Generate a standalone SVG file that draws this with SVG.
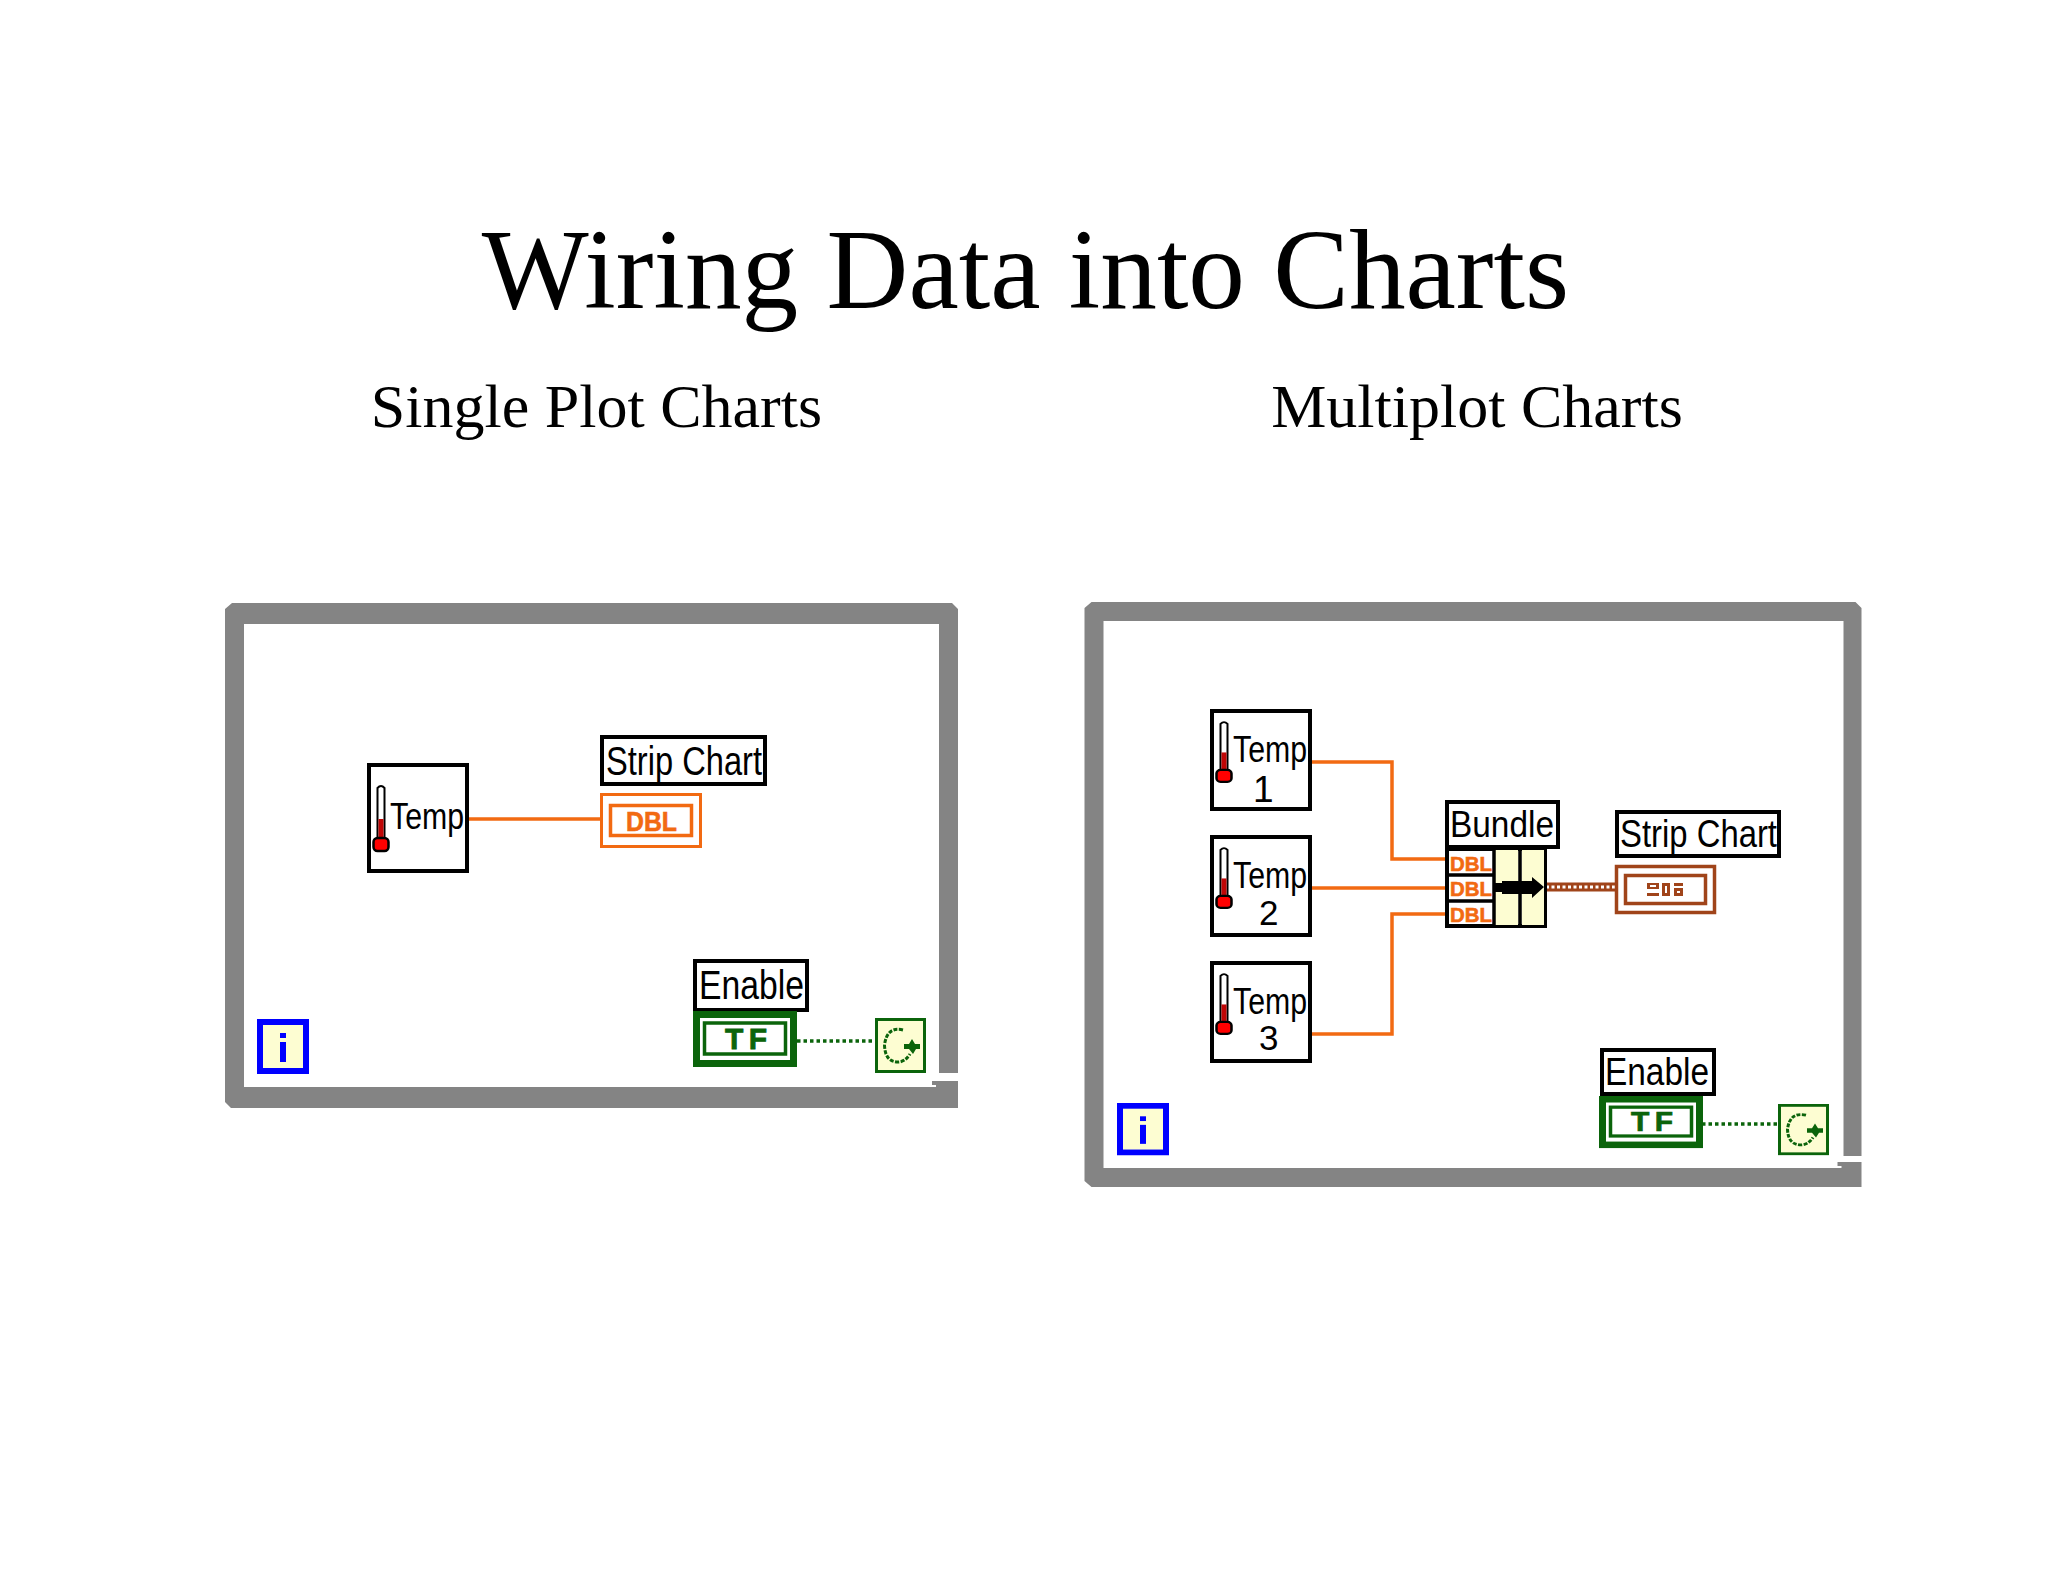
<svg xmlns="http://www.w3.org/2000/svg" xmlns:xlink="http://www.w3.org/1999/xlink" width="2048" height="1582" viewBox="0 0 2048 1582">
<style>
.title{font-family:"Liberation Serif","Times New Roman",serif;fill:#000}
.lbl{font-family:"Liberation Sans",Arial,sans-serif;fill:#000}
.box{fill:#fff;stroke:#000;stroke-width:4}
.frame{fill:#848484}
.org{fill:none;stroke:#f26a12;stroke-width:3.5}
.orgb{font-family:"Liberation Sans",Arial,sans-serif;font-weight:700;fill:#f26a12;stroke:#f26a12;stroke-width:.6}
.grn{font-family:"Liberation Sans",Arial,sans-serif;font-weight:700;fill:#0b640b;stroke:#0b640b;stroke-width:.8}
.dot{fill:none;stroke:#0b640b;stroke-width:3.5;stroke-dasharray:3.5 3}
.brn{fill:none;stroke:#a0441a;stroke-width:3.5}
</style>
<defs>
<g id="thermo">
<path d="M0.5,1 q3.5,-4 7,0 V52 H0.5 Z" fill="#fff" stroke="#000" stroke-width="2"/>
<rect x="1.5" y="32" width="5" height="22" fill="#c00606"/>
<rect x="-3.5" y="51" width="15" height="13" rx="4" fill="#f00" stroke="#000" stroke-width="2.5"/>
</g>
<g id="tf">
<rect x="3.5" y="3.5" width="97" height="49" fill="#fff" stroke="#0b640b" stroke-width="7"/>
<rect x="11.5" y="12" width="81" height="31" fill="#fff" stroke="#0b640b" stroke-width="3.5"/>
<text class="grn" x="32" y="38" font-size="30" textLength="42" lengthAdjust="spacing">TF</text>
</g>
<g id="loop">
<rect x="1.5" y="1.5" width="48" height="52" fill="#fdfdd2" stroke="#0b640b" stroke-width="3"/>
<path d="M28,12 Q12,8 9.5,27 Q10,44 23,44 Q30,44 35,36" fill="none" stroke="#0b640b" stroke-width="3" stroke-dasharray="4 1.5"/>
<path d="M37,21 L40,26 H45 V31 H41 L38,36 L34,31 H29 V26 H34 Z" fill="#0b640b"/>
</g>
<g id="iter">
<rect x="3" y="3" width="46" height="49" fill="#fdfdd2" stroke="#0000ff" stroke-width="6"/>
<rect x="23" y="14" width="6" height="5" fill="#0000ff"/>
<rect x="23" y="23" width="6" height="20" fill="#0000ff"/>
</g>
</defs>
<rect width="2048" height="1582" fill="#fff"/>
<text class="title" x="1025.5" y="308" font-size="113.3" text-anchor="middle">Wiring Data into Charts</text>
<text class="title" x="596.5" y="426.5" font-size="62" text-anchor="middle">Single Plot Charts</text>
<text class="title" x="1477" y="426.5" font-size="62" text-anchor="middle">Multiplot Charts</text>

<g id="connectors">
<path class="org" d="M469,819 H600"/>
<path class="dot" d="M797,1041 H875"/>
<path class="org" d="M1312,762 H1392 V859 H1445"/>
<path class="org" d="M1312,888 H1445"/>
<path class="org" d="M1312,1034 H1392 V914 H1445"/>
<path d="M1546,887 H1615" fill="none" stroke="#a0441a" stroke-width="9"/>
<path d="M1546,887 H1615" fill="none" stroke="#fff" stroke-width="3" stroke-dasharray="3 2.5"/>
<path class="dot" d="M1702,1124 H1778"/>
</g>

<g id="frame-left"><path class="frame" d="M232,603 H952 L958,609 V1073 H939 V624 H244 V1087 H936 V1085 H932 V1081 H958 V1108 H231 L225,1102 V609 Z"/></g>
<g id="frame-right"><path class="frame" transform="translate(-2.5,-1)" d="M1094,603 H1858 L1864,609 V1157 H1846 V622 H1106 V1169 H1844 V1167 H1840 V1163 H1864 V1188 H1094 L1087,1182 V609 Z"/></g>

<g id="temp-left">
<rect class="box" x="369" y="765" width="98" height="106"/>
<use xlink:href="#thermo" href="#thermo" x="377" y="787"/>
<text class="lbl" x="390" y="829" font-size="36" textLength="74" lengthAdjust="spacingAndGlyphs">Temp</text>
</g>
<g id="label-strip-left">
<rect class="box" x="602" y="737" width="163" height="47"/>
<text class="lbl" x="606" y="775" font-size="41" textLength="156" lengthAdjust="spacingAndGlyphs">Strip Chart</text>
</g>
<g id="chart-left">
<rect x="601.5" y="794.5" width="99" height="52" fill="#fff" stroke="#f26a12" stroke-width="3"/>
<rect x="610.5" y="805.5" width="81" height="30" fill="#fff" stroke="#f26a12" stroke-width="3.5"/>
<text class="orgb" x="626" y="831" font-size="27" textLength="51" lengthAdjust="spacingAndGlyphs">DBL</text>
</g>
<g id="enable-left">
<rect class="box" x="695" y="961" width="112" height="49"/>
<text class="lbl" x="699" y="999" font-size="40" textLength="105" lengthAdjust="spacingAndGlyphs">Enable</text>
<use xlink:href="#tf" href="#tf" x="693" y="1011"/>
</g>
<g id="loop-left"><use xlink:href="#loop" href="#loop" x="875" y="1018"/></g>
<g id="iter-left"><use xlink:href="#iter" href="#iter" x="257" y="1019"/></g>

<g id="temp-1">
<rect class="box" x="1212" y="711" width="98" height="98"/>
<use xlink:href="#thermo" href="#thermo" transform="translate(1220,723) scale(1,.92)"/>
<text class="lbl" x="1233" y="762" font-size="36" textLength="74" lengthAdjust="spacingAndGlyphs">Temp</text>
<text class="lbl" x="1253" y="802" font-size="37">1</text>
</g>
<g id="temp-2">
<rect class="box" x="1212" y="837" width="98" height="98"/>
<use xlink:href="#thermo" href="#thermo" transform="translate(1220,849) scale(1,.92)"/>
<text class="lbl" x="1233" y="888" font-size="36" textLength="74" lengthAdjust="spacingAndGlyphs">Temp</text>
<text class="lbl" x="1259" y="925" font-size="35">2</text>
</g>
<g id="temp-3">
<rect class="box" x="1212" y="963" width="98" height="98"/>
<use xlink:href="#thermo" href="#thermo" transform="translate(1220,975) scale(1,.92)"/>
<text class="lbl" x="1233" y="1014" font-size="36" textLength="74" lengthAdjust="spacingAndGlyphs">Temp</text>
<text class="lbl" x="1259" y="1050" font-size="35">3</text>
</g>
<g id="bundle">
<rect class="box" x="1447" y="802" width="111" height="45"/>
<text class="lbl" x="1450" y="837" font-size="37" textLength="104" lengthAdjust="spacingAndGlyphs">Bundle</text>
<rect x="1447" y="849" width="98" height="77" fill="#fff" stroke="#000" stroke-width="4"/>
<rect x="1495" y="850" width="23" height="75" fill="#fdfdd2"/>
<rect x="1522" y="850" width="22" height="75" fill="#fdfdd2"/>
<path d="M1494,849 V926 M1520,849 V926 M1447,875 H1494 M1447,901 H1494" fill="none" stroke="#000" stroke-width="3.5"/>
<path d="M1493,883 H1502 V881 H1532 V877 L1544,887 L1532,898 V894 H1502 V892 H1493 Z" fill="#000"/>
<text class="orgb" x="1450" y="871" font-size="21" textLength="42" lengthAdjust="spacingAndGlyphs">DBL</text>
<text class="orgb" x="1450" y="896" font-size="21" textLength="42" lengthAdjust="spacingAndGlyphs">DBL</text>
<text class="orgb" x="1450" y="922" font-size="21" textLength="42" lengthAdjust="spacingAndGlyphs">DBL</text>
</g>
<g id="label-strip-right">
<rect class="box" x="1617" y="812" width="162" height="44"/>
<text class="lbl" x="1620" y="847" font-size="38" textLength="157" lengthAdjust="spacingAndGlyphs">Strip Chart</text>
</g>
<g id="chart-right">
<rect class="brn" x="1616.5" y="866.5" width="98" height="46" fill="#fff" stroke-width="3"/>
<rect class="brn" x="1625.5" y="875.5" width="80" height="28"/>
<g fill="#a0441a">
<path d="M1647,883 h12 v6 h-12 Z M1650,885 v2 h6 v-2 Z" fill-rule="evenodd"/>
<rect x="1647" y="893" width="12" height="3"/>
<path d="M1662,883 h8 v13 h-8 Z M1665,886 v7 h2 v-7 Z" fill-rule="evenodd"/>
<rect x="1674" y="883" width="9" height="3"/>
<path d="M1674,888 h9 v8 h-9 Z M1677,891 v2 h3 v-2 Z" fill-rule="evenodd"/>
</g>
</g>
<g id="enable-right">
<rect class="box" x="1602" y="1050" width="112" height="44"/>
<text class="lbl" x="1605" y="1085" font-size="38" textLength="104" lengthAdjust="spacingAndGlyphs">Enable</text>
<use xlink:href="#tf" href="#tf" transform="translate(1599,1096) scale(1,.93)"/>
</g>
<g id="loop-right"><use xlink:href="#loop" href="#loop" transform="translate(1778,1104) scale(1,.93)"/></g>
<g id="iter-right"><use xlink:href="#iter" href="#iter" transform="translate(1117,1103) scale(1,.95)"/></g>
</svg>
